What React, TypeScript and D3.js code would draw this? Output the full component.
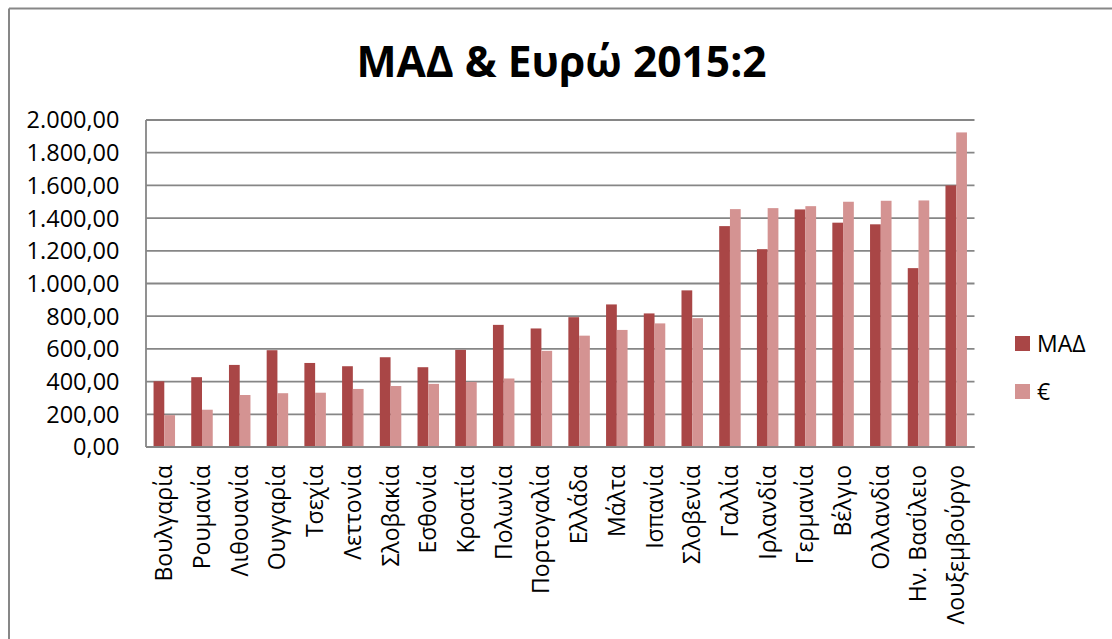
import React from "react";
import * as d3 from "d3";

const categories = [
  "Βουλγαρία", "Ρουμανία", "Λιθουανία", "Ουγγαρία", "Τσεχία", "Λεττονία",
  "Σλοβακία", "Εσθονία", "Κροατία", "Πολωνία", "Πορτογαλία", "Ελλάδα",
  "Μάλτα", "Ισπανία", "Σλοβενία", "Γαλλία", "Ιρλανδία", "Γερμανία",
  "Βέλγιο", "Ολλανδία", "Ην. Βασίλειο", "Λουξεμβούργο",
];
const madValues = [
  402, 427, 502, 592, 514, 494, 549, 488, 594, 747, 725, 794,
  872, 817, 958, 1351, 1210, 1453, 1372, 1362, 1094, 1600,
];
const euroValues = [
  195, 228, 318, 329, 332, 355, 373, 386, 398, 419, 588, 681,
  716, 756, 788, 1455, 1461, 1473, 1500, 1506, 1508, 1924,
];
const seriesNames = ["ΜΑΔ", "€"];
const yTicks = [0, 200, 400, 600, 800, 1000, 1200, 1400, 1600, 1800, 2000];
const title = "ΜΑΔ & Ευρώ 2015:2";

const colors = ["#A94646", "#D49392"];
const FONT = "'Open Sans', 'DejaVu Sans', sans-serif";

const locale = d3.formatLocale({
  decimal: ",",
  thousands: ".",
  grouping: [3],
  currency: ["", "€"],
});
const fmt = locale.format(",.2f");

export default function App() {
  const W = 1112;
  const H = 639;
  const plot = { left: 146, right: 974.5, top: 120, bottom: 447 };

  const x = d3
    .scaleBand<string>()
    .domain(categories)
    .range([plot.left, plot.right])
    .paddingInner(0.43)
    .paddingOuter(0.2);
  const x1 = d3
    .scaleBand<number>()
    .domain([0, 1])
    .range([0, x.bandwidth()]);
  const y = d3.scaleLinear().domain([0, 2000]).range([plot.bottom, plot.top]);

  const series = [madValues, euroValues];

  return (
    <svg
      width={W}
      height={H}
      style={{ position: "absolute", left: 0, top: 0, background: "#fff" }}
    >
      <rect x={0} y={0} width={W} height={H} fill="#fff" />
      {/* chart frame */}
      <line x1={9} y1={8.5} x2={W} y2={8.5} stroke="#878787" strokeWidth={2} />
      <line x1={9} y1={8.5} x2={9} y2={H} stroke="#878787" strokeWidth={2} />

      <text
        x={561.5}
        y={77}
        textAnchor="middle"
        fontFamily={FONT}
        fontWeight="bold"
        fontSize={42.5}
        fill="#000"
      >
        {title}
      </text>

      {/* gridlines */}
      {yTicks.map((t) => (
        <line
          key={"g" + t}
          x1={plot.left}
          x2={plot.right}
          y1={y(t)}
          y2={y(t)}
          stroke="#868686"
          strokeWidth={1.8}
        />
      ))}
      {/* y tick labels */}
      {yTicks.map((t) => (
        <text
          key={"t" + t}
          x={119.5}
          y={y(t)}
          dy="0.36em"
          textAnchor="end"
          fontFamily={FONT}
          fontSize={23.5}
          fill="#000"
        >
          {fmt(t)}
        </text>
      ))}

      {/* bars */}
      {categories.map((c, i) => (
        <g key={c} transform={`translate(${x(c)},0)`}>
          {series.map((vals, s) => (
            <rect
              key={s}
              x={x1(s)}
              y={y(vals[i])}
              width={x1.bandwidth()}
              height={y(0) - y(vals[i])}
              fill={colors[s]}
            />
          ))}
        </g>
      ))}

      {/* axes lines */}
      <line
        x1={plot.left}
        x2={plot.left}
        y1={plot.top}
        y2={plot.bottom}
        stroke="#868686"
        strokeWidth={1.8}
      />
      <line
        x1={plot.left}
        x2={plot.right}
        y1={plot.bottom}
        y2={plot.bottom}
        stroke="#868686"
        strokeWidth={1.8}
      />

      {/* category labels */}
      {categories.map((c) => {
        const cx = (x(c) as number) + x.bandwidth() / 2;
        return (
          <text
            key={"l" + c}
            transform={`translate(${cx + 8},465) rotate(-90)`}
            textAnchor="end"
            fontFamily={FONT}
            fontSize={23}
            fill="#000"
          >
            {c}
          </text>
        );
      })}

      {/* legend */}
      {seriesNames.map((n, i) => (
        <g key={n} transform={`translate(1015,${336 + i * 48})`}>
          <rect x={0} y={0} width={15} height={15} fill={colors[i]} />
          <text
            x={22}
            y={7.5}
            dy="0.36em"
            fontFamily={FONT}
            fontSize={23}
            fill="#000"
          >
            {n}
          </text>
        </g>
      ))}
    </svg>
  );
}
